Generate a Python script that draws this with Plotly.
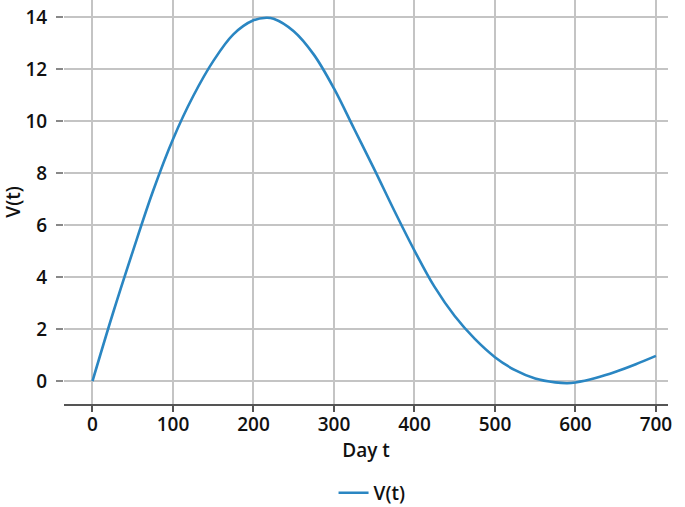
import plotly.graph_objects as go

# Values
days = [0, 25, 50, 75, 100, 125, 150, 175, 200, 216, 225, 250, 275, 300,
        325, 350, 375, 400, 425, 450, 475, 500, 525, 550, 575, 590, 600,
        625, 650, 675, 700]
v_t = [0.0, 2.57, 4.98, 7.29, 9.3, 10.95, 12.3, 13.33, 13.87, 13.97, 13.93,
       13.45, 12.55, 11.25, 9.7, 8.15, 6.55, 5.02, 3.62, 2.5, 1.62, 0.92, 0.42,
       0.1, -0.05, -0.08, -0.05, 0.12, 0.36, 0.65, 0.97]

x_ticks = [0, 100, 200, 300, 400, 500, 600, 700]
y_ticks = [0, 2, 4, 6, 8, 10, 12, 14]

GRID = "#c4c4c4"
INK = "#111111"
FONT = dict(family="Open Sans", size=19, color=INK, weight=600)

fig = go.Figure()
fig.add_trace(go.Scatter(
    x=days, y=v_t, mode="lines", name="V(t)",
    line=dict(color="#2a86c2", width=2.6, shape="spline", smoothing=1.0),
))

fig.update_layout(
    width=685, height=507,
    paper_bgcolor="white", plot_bgcolor="white",
    font=FONT,
    margin=dict(l=64, r=17, t=0, b=103, autoexpand=False),
    showlegend=True,
    legend=dict(orientation="h", x=0.51, xanchor="center", y=-0.22,
                yanchor="middle", font=FONT),
    xaxis=dict(
        range=[-35.4, 715], tickvals=x_ticks, showgrid=True,
        gridcolor=GRID, gridwidth=1.5, zeroline=False, automargin=False,
        showline=True, linecolor="#555555", linewidth=2,
        ticks="outside", ticklen=6, tickcolor="#555555", tickwidth=1.5,
        ticklabelstandoff=-4, tickfont=FONT,
        title=dict(text="Day t", standoff=0, font=FONT),
    ),
    yaxis=dict(
        range=[-0.88, 14.65], tickvals=y_ticks, showgrid=True,
        gridcolor=GRID, gridwidth=1.5, zeroline=False, showline=False,
        automargin=False,
        ticks="outside", ticklen=7, tickcolor="#888888", tickwidth=1.5,
        ticklabelstandoff=5, tickfont=FONT,
        title=dict(text="V(t)", standoff=8, font=FONT),
    ),
)

# drop the browser's default page margin so the figure sits at the corner
fig.write_html("out.html", config={"displayModeBar": False},
               post_script="document.body.style.margin='0';")
